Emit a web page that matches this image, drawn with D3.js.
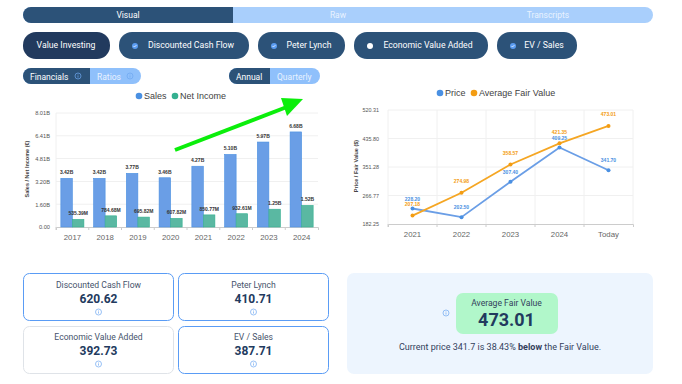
<!DOCTYPE html>
<html lang="en">
<head>
  <meta charset="UTF-8">
  <title>Fair Value Dashboard</title>
  <script src="https://d3js.org/d3.v7.min.js"></script>
  <style>
    html, body { margin: 0; padding: 0; background: #fff; overflow: hidden; }
    svg { display: block; font-family: Roboto, Arial, sans-serif; }
    .tick text { font-family: "Liberation Sans", Arial, sans-serif; }
    .small { font-family: "Liberation Sans", Arial, sans-serif; font-weight: bold; font-size: 5px; text-anchor: middle; }
  </style>
</head>
<body>
  <script>
    // bar chart
    const years = ["2017", "2018", "2019", "2020", "2021", "2022", "2023", "2024"];
    const sales = [3.42, 3.42, 3.77, 3.46, 4.27, 5.10, 5.97, 6.68];
    const netIncome = [0.53539, 0.78468, 0.69582, 0.60782, 0.85077, 0.93261, 1.25, 1.52];
    const salesLabels = ["3.42B", "3.42B", "3.77B", "3.46B", "4.27B", "5.10B", "5.97B", "6.68B"];
    const incomeLabels = ["535.39M", "784.68M", "695.82M", "607.82M", "850.77M", "932.61M", "1.25B", "1.52B"];
    const barTicks = [0, 1.60, 3.20, 4.81, 6.41, 8.01];
    const barTickLabels = ["0.00", "1.60B", "3.20B", "4.81B", "6.41B", "8.01B"];

    // line chart
    const periods = ["2021", "2022", "2023", "2024", "Today"];
    const price = [228.20, 202.50, 307.40, 409.25, 341.70];
    const fairValue = [207.18, 274.98, 358.57, 421.35, 473.01];
    const lineTicks = [182.25, 266.77, 351.28, 435.80, 520.31];

    // ui
    const tabs = ["Visual", "Raw", "Transcripts"];
    const methods = ["Value Investing", "Discounted Cash Flow", "Peter Lynch", "Economic Value Added", "EV / Sales"];
    const cardNames = ["Discounted Cash Flow", "Peter Lynch", "Economic Value Added", "EV / Sales"];
    const cardValues = ["620.62", "410.71", "392.73", "387.71"];

    const blue = "#4a90e2", green = "#34b090", orange = "#f39c12";
    const navy = "#2c5278", dark = "#223a5e", pale = "#a9cffc";

    const svg = d3.select("body").append("svg").attr("width", 682).attr("height", 384);

    function info(g, x, y, color) {
      g.append("circle").attr("cx", x).attr("cy", y).attr("r", 3).attr("fill", "none").attr("stroke", color).attr("stroke-width", 0.7);
      g.append("line").attr("x1", x).attr("x2", x).attr("y1", y - 0.6).attr("y2", y + 1.6).attr("stroke", color).attr("stroke-width", 0.7);
      g.append("circle").attr("cx", x).attr("cy", y - 1.4).attr("r", 0.4).attr("fill", color);
    }

    function label(g, x, y, txt, size, color, anchor, weight) {
      return g.append("text").attr("x", x).attr("y", y).attr("font-size", size).attr("fill", color)
        .attr("text-anchor", anchor || "middle").attr("font-weight", weight || 400).text(txt);
    }

    // top tabs
    const tabBar = svg.append("g");
    tabBar.append("rect").attr("x", 23).attr("y", 7).attr("width", 630).attr("height", 16).attr("rx", 8).attr("fill", pale);
    tabBar.append("path").attr("d", "M233,7H31a8,8 0 0 0 0,16H233Z").attr("fill", navy);
    [128, 338, 548].forEach((x, i) => label(tabBar, x, 18, tabs[i], 8.5, i === 0 ? "#fff" : "#e8f2ff"));

    // method pills
    const pills = [[23, 87], [119, 130], [258, 87], [354, 134], [497, 80]];
    const pillText = [66, 191, 309, 428, 544];
    pills.forEach((p, i) => {
      const g = svg.append("g");
      g.append("rect").attr("x", p[0]).attr("y", 32).attr("width", p[1]).attr("height", 27).attr("rx", 13)
        .attr("fill", i === 0 ? dark : navy);
      label(g, pillText[i], 48, methods[i], 8.7, "#fff");
      if (i > 0) {
        const checked = i !== 3;
        g.append("circle").attr("cx", p[0] + 16).attr("cy", 46).attr("r", 3).attr("fill", checked ? "#5b9cf0" : "#fff");
        if (checked) g.append("path").attr("d", `M${p[0] + 14.5},46l1,1l2,-2`).attr("fill", "none").attr("stroke", "#fff").attr("stroke-width", 0.7);
      }
    });

    // small toggles
    function toggle(x, w1, w2, a, b, withInfo) {
      const g = svg.append("g");
      const y = 68, h = 16;
      g.append("rect").attr("x", x).attr("y", y).attr("width", w1 + w2).attr("height", h).attr("rx", 8).attr("fill", "#8fc0fb");
      g.append("path").attr("d", `M${x + w1},${y}H${x + 8}a8,8 0 0 0 0,${h}H${x + w1}Z`).attr("fill", navy);
      label(g, x + 7, y + 11.5, a, 8.5, "#fff", "start");
      label(g, x + w1 + 7, y + 11.5, b, 8.5, "#e8f2ff", "start");
      if (withInfo) {
        info(g, x + w1 - 12, y + 8, "#6ea8f0");
        info(g, x + w1 + w2 - 11, y + 8, "#6ea8f0");
      }
    }
    toggle(23, 67, 51, "Financials", "Ratios", true);
    toggle(229, 41, 50, "Annual", "Quarterly", false);

    // legends
    function legend(x, y, items) {
      const g = svg.append("g");
      items.forEach(d => {
        g.append("circle").attr("cx", x + d[0]).attr("cy", y).attr("r", 3.3).attr("fill", d[2]);
        label(g, x + d[0] + 5, y + 3.2, d[1], 9, "#3f3f3f", "start").attr("font-family", "Liberation Sans, Arial, sans-serif");
      });
    }
    legend(0, 96, [[139, "Sales", blue], [175, "Net Income", green]]);
    legend(0, 93, [[440, "Price", blue], [474, "Average Fair Value", orange]]);

    // bar chart
    const barX = d3.scaleBand().domain(years).range([56, 318]);
    const barGroup = d3.scaleBand().domain(["sales", "income"]).range([0, barX.bandwidth()]).paddingOuter(0.42).paddingInner(0);
    const barY = d3.scaleLinear().domain([0, 8.01]).range([227, 113]);

    const barChart = svg.append("g");
    barChart.append("g").selectAll("line").data(barTicks.slice(1)).join("line")
      .attr("x1", 56).attr("x2", 318).attr("y1", d => barY(d)).attr("y2", d => barY(d)).attr("stroke", "#f0f0f0");
    barChart.append("line").attr("x1", 56).attr("x2", 56).attr("y1", 113).attr("y2", 227).attr("stroke", "#f0f0f0");

    const barYAxis = d3.axisLeft(barY).tickValues(barTicks).tickFormat((d, i) => barTickLabels[i]).tickSize(0).tickPadding(6);
    barChart.append("g").attr("transform", "translate(56,0)").call(barYAxis)
      .call(g => g.select(".domain").remove())
      .call(g => g.selectAll("text").attr("font-size", 5.7).attr("fill", "#555"));
    const barXAxis = d3.axisBottom(barX).tickSize(3).tickPadding(4);
    barChart.append("g").attr("transform", "translate(0,227)").call(barXAxis)
      .call(g => g.select(".domain").attr("stroke", "#ccc"))
      .call(g => g.selectAll(".tick line").attr("stroke", "#ccc").attr("x1", -barX.bandwidth() / 2).attr("x2", -barX.bandwidth() / 2))
      .call(g => g.selectAll("text").attr("font-size", 7.8).attr("fill", "#666"));

    barChart.append("g").selectAll("rect").data(years).join("rect")
      .attr("x", d => barX(d) + barGroup("sales"))
      .attr("y", (d, i) => barY(sales[i]))
      .attr("width", barGroup.bandwidth())
      .attr("height", (d, i) => barY(0) - barY(sales[i]))
      .attr("fill", "#6a9ee6").attr("stroke", blue).attr("stroke-width", 0.6);
    barChart.append("g").selectAll("rect").data(years).join("rect")
      .attr("x", d => barX(d) + barGroup("income"))
      .attr("y", (d, i) => barY(netIncome[i]))
      .attr("width", barGroup.bandwidth())
      .attr("height", (d, i) => barY(0) - barY(netIncome[i]))
      .attr("fill", "#5ab8a2").attr("stroke", green).attr("stroke-width", 0.6);
    barChart.append("g").selectAll("text").data(years).join("text").attr("class", "small")
      .attr("x", d => barX(d) + barGroup("sales") + barGroup.bandwidth() / 2)
      .attr("y", (d, i) => barY(sales[i]) - 4).attr("fill", "#333").text((d, i) => salesLabels[i]);
    barChart.append("g").selectAll("text").data(years).join("text").attr("class", "small")
      .attr("x", d => barX(d) + barGroup("income") + barGroup.bandwidth() / 2)
      .attr("y", (d, i) => barY(netIncome[i]) - 4).attr("fill", "#333").text((d, i) => incomeLabels[i]);
    barChart.append("text").attr("transform", "translate(29,169) rotate(-90)").attr("class", "small")
      .style("font-size", "5.5px").attr("fill", "#444").text("Sales / Net Income (€)");

    // green arrow drawn over the chart
    svg.append("path").attr("d", "M175,150L292,105").attr("stroke", "#0bee0b").attr("stroke-width", 4).attr("fill", "none");
    svg.append("path").attr("d", "M281,98L303,99L287,116Z").attr("fill", "#0bee0b");

    // line chart
    const lineX = d3.scaleBand().domain(periods).range([388, 633]);
    const lineY = d3.scaleLinear().domain([182.25, 520.31]).range([224, 110]);

    const lineChart = svg.append("g");
    lineChart.append("g").selectAll("line").data(lineTicks.slice(1)).join("line")
      .attr("x1", 388).attr("x2", 633).attr("y1", d => lineY(d)).attr("y2", d => lineY(d)).attr("stroke", "#f0f0f0");
    lineChart.append("g").selectAll("line").data(periods).join("line")
      .attr("x1", d => lineX(d)).attr("x2", d => lineX(d)).attr("y1", 110).attr("y2", 224).attr("stroke", "#f0f0f0");
    lineChart.append("line").attr("x1", 633).attr("x2", 633).attr("y1", 110).attr("y2", 224).attr("stroke", "#f0f0f0");

    const lineYAxis = d3.axisLeft(lineY).tickValues(lineTicks).tickFormat(d3.format(".2f")).tickSize(0).tickPadding(9);
    lineChart.append("g").attr("transform", "translate(388,0)").call(lineYAxis)
      .call(g => g.select(".domain").remove())
      .call(g => g.selectAll("text").attr("font-size", 5.4).attr("fill", "#555"));
    const lineXAxis = d3.axisBottom(lineX).tickSize(3).tickPadding(4);
    lineChart.append("g").attr("transform", "translate(0,224)").call(lineXAxis)
      .call(g => g.select(".domain").attr("stroke", "#ccc"))
      .call(g => g.selectAll(".tick line").attr("stroke", "#ccc").attr("x1", -lineX.bandwidth() / 2).attr("x2", -lineX.bandwidth() / 2))
      .call(g => g.selectAll("text").attr("font-size", 7.8).attr("fill", "#666"));
    lineChart.append("text").attr("transform", "translate(358,166) rotate(-90)").attr("class", "small")
      .style("font-size", "5.5px").attr("fill", "#444").text("Price / Fair Value ($)");

    const line = d3.line().x((d, i) => lineX(periods[i]) + lineX.bandwidth() / 2).y(d => lineY(d));
    [[price, "#6a9ee6", blue, 7.8], [fairValue, "#f5a623", orange, 9.5]].forEach(s => {
      lineChart.append("path").attr("d", line(s[0])).attr("fill", "none").attr("stroke", s[1]).attr("stroke-width", 1.8);
      lineChart.append("g").selectAll("circle").data(s[0]).join("circle")
        .attr("cx", (d, i) => lineX(periods[i]) + lineX.bandwidth() / 2).attr("cy", d => lineY(d)).attr("r", 2).attr("fill", s[2]);
      lineChart.append("g").selectAll("text").data(s[0]).join("text").attr("class", "small")
        .attr("x", (d, i) => lineX(periods[i]) + lineX.bandwidth() / 2)
        .attr("y", d => lineY(d) - s[3]).attr("fill", s[2]).text(d => d.toFixed(2));
    });

    // value cards
    const cardPos = [[23, 273], [178, 273], [23, 326], [178, 326]];
    cardPos.forEach((p, i) => {
      const g = svg.append("g");
      const dy = i < 2 ? 0 : -1;
      g.append("rect").attr("x", p[0] + 0.5).attr("y", p[1] + 0.5).attr("width", 150).attr("height", 47).attr("rx", 6)
        .attr("fill", "#fff").attr("stroke", i === 2 ? "#dfe3e8" : "#5a9cf5");
      label(g, p[0] + 75.5, p[1] + 15 + dy, cardNames[i], 8.6, "#46536b");
      label(g, p[0] + 75.5, p[1] + 30 + dy, cardValues[i], 12, dark, "middle", 700);
      info(g, p[0] + 75.5, p[1] + 39 + dy, "#6ea8f0");
    });

    // fair value panel
    const panel = svg.append("g");
    panel.append("rect").attr("x", 347).attr("y", 273).attr("width", 306).attr("height", 101).attr("rx", 7).attr("fill", "#edf5fe");
    panel.append("rect").attr("x", 456).attr("y", 293).attr("width", 102).attr("height", 41).attr("rx", 7).attr("fill", "#b1f7ca");
    label(panel, 506.5, 306, "Average Fair Value", 8.6, "#33415c");
    label(panel, 506.5, 326, "473.01", 18, dark, "middle", 700);
    info(panel, 446, 313, "#6ea8f0");
    const note = label(panel, 500, 350, "", 9, "#33415c");
    note.append("tspan").text("Current price 341.7 is 38.43% ");
    note.append("tspan").attr("font-weight", 700).text("below");
    note.append("tspan").text(" the Fair Value.");
  </script>
</body>
</html>
